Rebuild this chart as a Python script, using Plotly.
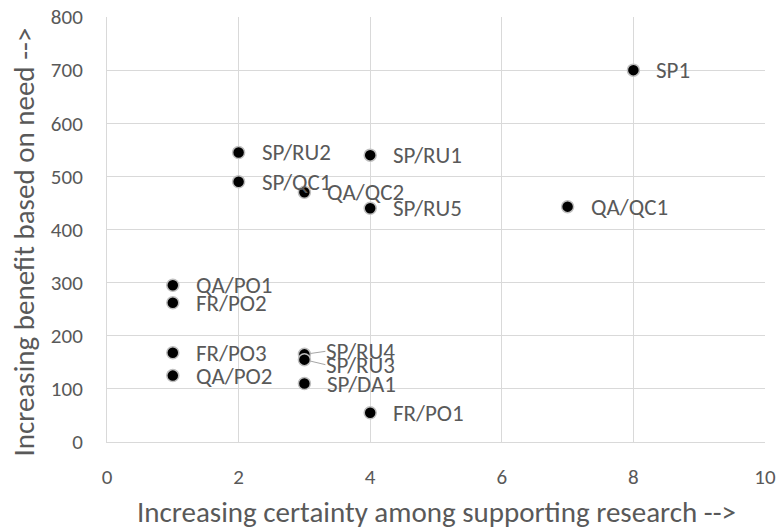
import plotly.graph_objects as go

labels = ["SP1", "SP/RU2", "SP/RU1", "SP/QC1", "QA/QC2", "SP/RU5", "QA/QC1",
          "QA/PO1", "FR/PO2", "FR/PO3", "QA/PO2", "SP/RU4", "SP/RU3", "SP/DA1", "FR/PO1"]
certainty = [8, 2, 4, 2, 3, 4, 7, 1, 1, 1, 1, 3, 3, 3, 4]
benefit = [700, 545, 540, 490, 470, 440, 443, 295, 262, 168, 125, 165, 155, 110, 55]

x_ticks = [0, 2, 4, 6, 8, 10]
y_ticks = [0, 100, 200, 300, 400, 500, 600, 700, 800]

x_title = "Increasing certainty among supporting research -->"
y_title = "Increasing benefit based on need -->"

FONT = "Carlito, Lato, Liberation Sans, Arial"
GRAY = "#595959"

fig = go.Figure()
fig.add_trace(go.Scatter(
    x=certainty, y=benefit, mode="markers",
    marker=dict(size=12, color="black", line=dict(color="#bfbfbf", width=1.5)),
    hoverinfo="skip", showlegend=False,
))

annotations = []
special = {"SP/RU4": -3, "SP/RU3": 5}
for lab, x, y in zip(labels, certainty, benefit):
    if lab in special:
        annotations.append(dict(
            x=x, y=y, xref="x", yref="y", text=lab, showarrow=True,
            arrowhead=0, arrowwidth=1, arrowcolor="#a6a6a6",
            ax=21, ay=special[lab], xanchor="left", yanchor="middle",
            font=dict(family=FONT, size=23, color=GRAY),
            standoff=6, startstandoff=0, borderpad=0))
    else:
        annotations.append(dict(
            x=x, y=y, xref="x", yref="y", text=lab, showarrow=False,
            xanchor="left", yanchor="middle", xshift=21,
            font=dict(family=FONT, size=23, color=GRAY)))

annotations.append(dict(
    x=0.5, y=0, xref="paper", yref="paper", text=x_title, showarrow=False,
    xanchor="center", yanchor="middle", yshift=-70,
    font=dict(family=FONT, size=29, color=GRAY)))
annotations.append(dict(
    x=0, y=0.5, xref="paper", yref="paper", text=y_title, showarrow=False,
    textangle=-90, xanchor="center", yanchor="middle", xshift=-84, yshift=-13,
    font=dict(family=FONT, size=29, color=GRAY)))

fig.update_layout(
    width=779, height=531,
    margin=dict(l=107, r=14, t=17, b=89),
    paper_bgcolor="white", plot_bgcolor="white",
    annotations=annotations,
    font=dict(family=FONT, color=GRAY),
    xaxis=dict(range=[0, 10], tickvals=x_ticks, showgrid=True, gridcolor="#d9d9d9",
               gridwidth=1, zeroline=False, showline=True, linecolor="#d9d9d9",
               tickfont=dict(family=FONT, size=21, color=GRAY), ticks="",
               automargin=False, ticklabelstandoff=16),
    yaxis=dict(range=[0, 800], tickvals=y_ticks, showgrid=True, gridcolor="#d9d9d9",
               gridwidth=1, zeroline=False, showline=True, linecolor="#d9d9d9",
               tickfont=dict(family=FONT, size=21, color=GRAY), ticks="",
               automargin=False, ticklabelstandoff=19),
)

fig.write_html("out.html", config={"displayModeBar": False},
               post_script="document.body.style.margin='0';document.body.style.overflow='hidden';")
